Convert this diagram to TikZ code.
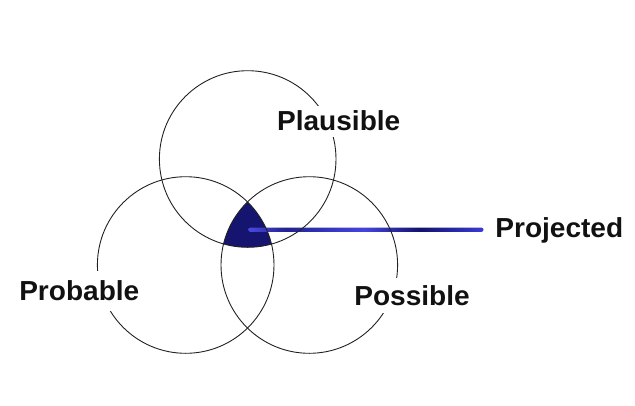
\documentclass[tikz,border=0pt]{standalone}
\usepackage{fontspec}
\setmainfont{Liberation Sans}[FakeStretch=1.02]
\definecolor{regionfill}{HTML}{15156F}
\definecolor{circline}{HTML}{222222}
\definecolor{labeltext}{HTML}{111111}
\definecolor{pa}{HTML}{4A4AE2}
\definecolor{pb}{HTML}{22228F}
\definecolor{pc}{HTML}{3A3ACC}
\definecolor{pd}{HTML}{4444DC}
\definecolor{pe}{HTML}{12126E}
\definecolor{pf}{HTML}{3A3AD6}
\pgfdeclarehorizontalshading{projline}{100bp}{color(0bp)=(pa); color(25bp)=(pa); color(33bp)=(pb); color(44.5bp)=(pc); color(49.8bp)=(pd); color(61.5bp)=(pe); color(75bp)=(pf); color(100bp)=(pf)}
\tikzset{
  venn/.style={draw=circline, line width=0.9pt},
  setlabel/.style={fill=white, text=labeltext, font=\fontsize{27.5}{30}\selectfont\bfseries, text height=19pt, text depth=0pt, inner xsep=4pt, anchor=base}
}
\begin{document}
\begin{tikzpicture}[x=1pt,y=-1pt]
\useasboundingbox (0,0) rectangle (635,405);
% centres
\coordinate (ctop) at (247.7,159);
\coordinate (cleft) at (185.7,265);
\coordinate (cright) at (309.3,265);
\def\rad{88.3}
% common region
\begin{scope}
  \clip (ctop) circle (\rad);
  \clip (cleft) circle (\rad);
  \fill[regionfill] (cright) circle (\rad);
\end{scope}
% connector
\coordinate (core) at (250.5,229.7);
\coordinate (lineend) at (481.3,229.7);
\shade[shading=projline, rounded corners=2.2pt] ([xshift=-2.2pt,yshift=2.2pt]core) rectangle ([xshift=2.2pt,yshift=-2.2pt]lineend);
% circles
\draw[venn] (ctop) circle (\rad);
\draw[venn] (cleft) circle (\rad);
\draw[venn] (cright) circle (\rad);
% labels
\node[setlabel, inner ysep=6pt] (plausible) at (338.7,130.7) {Plausible};
\node[setlabel, inner ysep=10.5pt] (probable) at (79.3,300) {Probable};
\node[setlabel, inner ysep=7.7pt] (possible) at (412,305) {Possible};
\node[setlabel, inner ysep=4pt] (projected) at (559.3,237.7) {Projected};
\end{tikzpicture}
\end{document}
